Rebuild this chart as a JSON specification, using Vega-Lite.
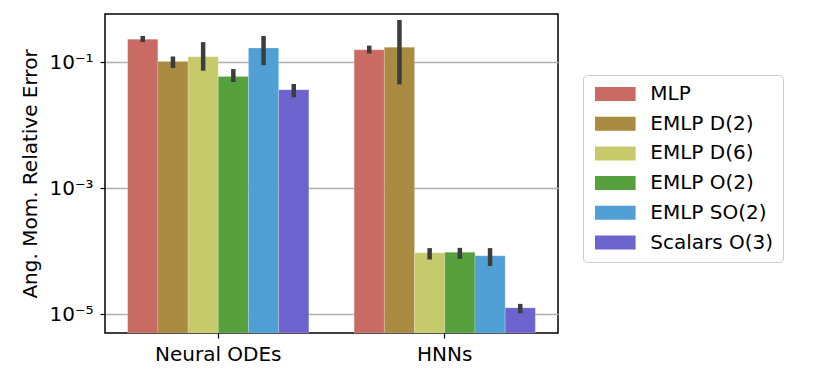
{
  "$schema": "https://vega.github.io/schema/vega-lite/v6.json",
  "width": 453,
  "height": 319,
  "autosize": {"type": "none"},
  "padding": {"left": 105, "top": 14, "right": 271, "bottom": 50},
  "background": "white",
  "config": {
    "font": "DejaVu Sans",
    "view": {"stroke": "black", "strokeWidth": 1.5},
    "axis": {"labelFont": "DejaVu Sans", "titleFont": "DejaVu Sans", "domain": false, "tickColor": "black", "tickWidth": 1.2, "tickSize": 5, "labelColor": "black", "titleColor": "black"}
  },
  "data": {
    "values": [
      {"group": "Neural ODEs", "model": "MLP", "value": 0.233, "lo": 0.209, "hi": 0.262},
      {"group": "Neural ODEs", "model": "EMLP D(2)", "value": 0.103, "lo": 0.0809, "hi": 0.1236},
      {"group": "Neural ODEs", "model": "EMLP D(6)", "value": 0.122, "lo": 0.0734, "hi": 0.209},
      {"group": "Neural ODEs", "model": "EMLP O(2)", "value": 0.0597, "lo": 0.0486, "hi": 0.078},
      {"group": "Neural ODEs", "model": "EMLP SO(2)", "value": 0.168, "lo": 0.0902, "hi": 0.262},
      {"group": "Neural ODEs", "model": "Scalars O(3)", "value": 0.0367, "lo": 0.0278, "hi": 0.0452},
      {"group": "HNNs", "model": "MLP", "value": 0.158, "lo": 0.1377, "hi": 0.184},
      {"group": "HNNs", "model": "EMLP D(2)", "value": 0.174, "lo": 0.0446, "hi": 0.47},
      {"group": "HNNs", "model": "EMLP D(6)", "value": 0.0000938, "lo": 0.0000736, "hi": 0.0001114},
      {"group": "HNNs", "model": "EMLP O(2)", "value": 0.0000962, "lo": 0.0000753, "hi": 0.0001125},
      {"group": "HNNs", "model": "EMLP SO(2)", "value": 0.0000841, "lo": 0.0000578, "hi": 0.0001114},
      {"group": "HNNs", "model": "Scalars O(3)", "value": 0.00001253, "lo": 0.0000103, "hi": 0.00001449}
    ]
  },
  "encoding": {
    "x": {
      "field": "group", "type": "nominal", "sort": ["Neural ODEs", "HNNs"],
      "scale": {"paddingInner": 0.2, "paddingOuter": 0.1},
      "axis": {"title": null, "labelAngle": 0, "labelFontSize": 20, "labelPadding": 6, "grid": false}
    },
    "xOffset": {
      "field": "model", "type": "nominal",
      "sort": ["MLP", "EMLP D(2)", "EMLP D(6)", "EMLP O(2)", "EMLP SO(2)", "Scalars O(3)"],
      "scale": {"paddingInner": 0, "paddingOuter": 0}
    }
  },
  "layer": [
    {
      "mark": {"type": "bar", "stroke": "white", "strokeWidth": 0.4, "strokeOpacity": 0.5},
      "encoding": {
        "y": {
          "field": "value", "type": "quantitative",
          "scale": {"type": "log", "domain": [0.00000499, 0.585], "nice": false},
          "axis": {
            "title": "Ang. Mom. Relative Error", "titleFontSize": 20, "titleFontWeight": "normal", "titlePadding": 8,
            "values": [0.00001, 0.001, 0.1],
            "labelExpr": "'10' + (datum.value > 0.01 ? '⁻¹' : datum.value > 0.0001 ? '⁻³' : '⁻⁵')",
            "labelFontSize": 20, "labelPadding": 7,
            "grid": true, "gridColor": "#b0b0b0", "gridWidth": 1.5
          }
        },
        "y2": {"datum": 0.00000499},
        "color": {
          "field": "model", "type": "nominal",
          "sort": ["MLP", "EMLP D(2)", "EMLP D(6)", "EMLP O(2)", "EMLP SO(2)", "Scalars O(3)"],
          "scale": {
            "domain": ["MLP", "EMLP D(2)", "EMLP D(6)", "EMLP O(2)", "EMLP SO(2)", "Scalars O(3)"],
            "range": ["#c96b63", "#a98b41", "#c7ca6a", "#56a03d", "#50a0d6", "#6c64cc"]
          },
          "legend": {
            "title": null,
            "orient": "none", "legendX": 478, "legendY": 61,
            "symbolType": "M-2.9,-1L2.9,-1L2.9,1L-2.9,1Z",
            "symbolSize": 196,
            "symbolStrokeWidth": 0,
            "symbolOpacity": 1,
            "symbolOffset": 13.3,
            "labelOffset": 25,
            "labelFontSize": 20,
            "labelColor": "black",
            "rowPadding": 9.7,
            "padding": 9,
            "strokeColor": "#cccccc",
            "fillColor": "white",
            "cornerRadius": 4
          }
        }
      }
    },
    {
      "mark": {"type": "rule", "color": "#3d3d3d", "strokeWidth": 4.5},
      "encoding": {
        "y": {"field": "lo", "type": "quantitative"},
        "y2": {"field": "hi"}
      }
    }
  ]
}
